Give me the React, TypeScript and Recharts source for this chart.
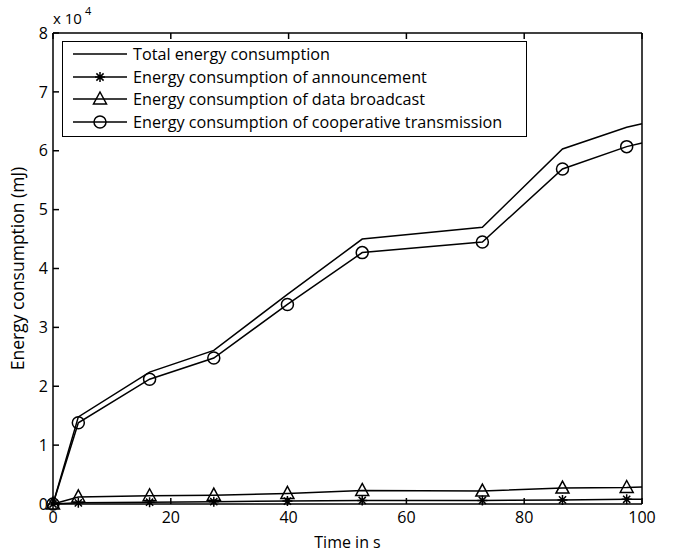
import React from 'react';
import { LineChart, Line, XAxis, YAxis, Legend, Label } from 'recharts';

const times = [0, 4.3, 16.4, 27.3, 39.8, 52.5, 72.9, 86.5, 97.4, 100];
const totalEnergy = [0, 14800, 22400, 26100, 35600, 45000, 47000, 60300, 64000, 64600];
const announcement = [0, 200, 300, 400, 500, 600, 600, 700, 800, 800];
const dataBroadcast = [0, 1200, 1400, 1500, 1800, 2300, 2200, 2700, 2800, 2900];
const cooperative = [0, 13800, 21200, 24800, 33900, 42700, 44500, 56900, 60700, 61300];

const xTicks = [0, 20, 40, 60, 80, 100];
const yTicks = [0, 10000, 20000, 30000, 40000, 50000, 60000, 70000, 80000];

const seriesNames = [
  'Total energy consumption',
  'Energy consumption of announcement',
  'Energy consumption of data broadcast',
  'Energy consumption of cooperative transmission',
];
const markerTypes = ['none', 'star', 'triangle', 'circle'];

const data = times.map((t, i) => ({
  t,
  total: totalEnergy[i],
  ann: announcement[i],
  bc: dataBroadcast[i],
  coop: cooperative[i],
}));

const FONT = '"Open Sans", sans-serif';

function Marker({ type, cx, cy }: { type: string; cx: number; cy: number }) {
  if (type === 'star') {
    const s = 5;
    const d = 3.6;
    return (
      <path
        d={`M${cx - s},${cy} L${cx + s},${cy} M${cx},${cy - s} L${cx},${cy + s} M${cx - d},${cy - d} L${cx + d},${cy + d} M${cx - d},${cy + d} L${cx + d},${cy - d}`}
        stroke="#000"
        strokeWidth={1.5}
        fill="none"
      />
    );
  }
  if (type === 'triangle') {
    return (
      <path
        d={`M${cx},${cy - 7} L${cx + 6.5},${cy + 5} L${cx - 6.5},${cy + 5} Z`}
        stroke="#000"
        strokeWidth={1.5}
        fill="none"
      />
    );
  }
  if (type === 'circle') {
    return <circle cx={cx} cy={cy} r={6} stroke="#000" strokeWidth={1.5} fill="none" />;
  }
  return null;
}

const makeDot = (type: string) => (props: any) => {
  const { cx, cy, payload, index } = props;
  if (payload.t >= 100 || cx == null || cy == null) return <g key={`d-${type}-${index}`} />;
  return (
    <g key={`d-${type}-${index}`}>
      <Marker type={type} cx={cx} cy={cy} />
    </g>
  );
};

const LegendBox = () => (
  <div
    style={{
      border: '1.5px solid #000',
      background: '#fff',
      width: 463,
      height: 93,
      boxSizing: 'content-box',
      paddingTop: 1,
      fontFamily: FONT,
      fontSize: 16.2,
      color: '#000',
    }}
  >
    {seriesNames.map((name, i) => (
      <div key={name} style={{ display: 'flex', alignItems: 'center', height: 22.5 }}>
        <svg width={70} height={22} style={{ flex: 'none' }}>
          <line x1={10} y1={11} x2={64} y2={11} stroke="#000" strokeWidth={1.5} />
          <Marker type={markerTypes[i]} cx={37} cy={11} />
        </svg>
        <span style={{ whiteSpace: 'nowrap', lineHeight: '22px' }}>{name}</span>
      </div>
    ))}
  </div>
);

const ExponentLabel = (props: any) => {
  const vb = props.viewBox || {};
  const x = (vb.x ?? 0) + (vb.width ?? 53);
  const y = vb.y ?? 33;
  return (
    <text x={x} y={y - 9} fontFamily={FONT} fontSize={15} fill="#000" textAnchor="start">
      <tspan>x 10</tspan>
      <tspan dx={3} dy={-9} fontSize={11}>4</tspan>
    </text>
  );
};

export default function App() {
  return (
    <div style={{ position: 'absolute', left: 0, top: 0, width: 673, height: 554, background: '#fff' }}>
      <LineChart
        width={673}
        height={554}
        data={data}
        margin={{ top: 32, right: 30, bottom: 0, left: 0 }}
        style={{ fontFamily: FONT }}
      >
        <XAxis
          xAxisId="bottom"
          dataKey="t"
          type="number"
          domain={[0, 100]}
          ticks={xTicks}
          height={50}
          stroke="#000"
          strokeWidth={1.5}
          tickSize={-6}
          tickMargin={14}
          tick={{ fill: '#000', fontSize: 16, fontFamily: FONT }}
          label={{ value: 'Time in s', position: 'insideBottom', offset: 6, fill: '#000', fontSize: 16, fontFamily: FONT }}
        />
        <XAxis
          xAxisId="top"
          orientation="top"
          dataKey="t"
          type="number"
          domain={[0, 100]}
          ticks={xTicks}
          height={1}
          stroke="#000"
          strokeWidth={1.5}
          tickSize={-6}
          tickFormatter={() => ''}
        />
        <YAxis
          yAxisId="left"
          type="number"
          domain={[0, 80000]}
          ticks={yTicks}
          width={53}
          stroke="#000"
          strokeWidth={1.5}
          tickSize={-6}
          tickMargin={11}
          tickFormatter={(v: number) => String(v / 10000)}
          tick={{ fill: '#000', fontSize: 16, fontFamily: FONT }}
        >
          <Label
            value="Energy consumption (mJ)"
            angle={-90}
            position="insideLeft"
            offset={18}
            fill="#000"
            fontSize={17.5}
            fontFamily={FONT}
            style={{ textAnchor: 'middle' }}
          />
          <Label position="top" content={<ExponentLabel />} />
        </YAxis>
        <YAxis
          yAxisId="right"
          orientation="right"
          type="number"
          domain={[0, 80000]}
          ticks={yTicks}
          width={1}
          stroke="#000"
          strokeWidth={1.5}
          tickSize={-6}
          tickFormatter={() => ''}
        />
        <Legend
          layout="vertical"
          align="center"
          verticalAlign="middle"
          content={<LegendBox />}
          wrapperStyle={{ position: 'absolute', left: 62, top: 41, width: 'auto', height: 'auto' }}
        />
        <Line xAxisId="bottom" yAxisId="left" dataKey="total" stroke="#000" strokeWidth={1.5} dot={false} isAnimationActive={false} name={seriesNames[0]} />
        <Line xAxisId="bottom" yAxisId="left" dataKey="ann" stroke="#000" strokeWidth={1.5} dot={makeDot('star')} isAnimationActive={false} name={seriesNames[1]} />
        <Line xAxisId="bottom" yAxisId="left" dataKey="bc" stroke="#000" strokeWidth={1.5} dot={makeDot('triangle')} isAnimationActive={false} name={seriesNames[2]} />
        <Line xAxisId="bottom" yAxisId="left" dataKey="coop" stroke="#000" strokeWidth={1.5} dot={makeDot('circle')} isAnimationActive={false} name={seriesNames[3]} />
      </LineChart>
    </div>
  );
}
